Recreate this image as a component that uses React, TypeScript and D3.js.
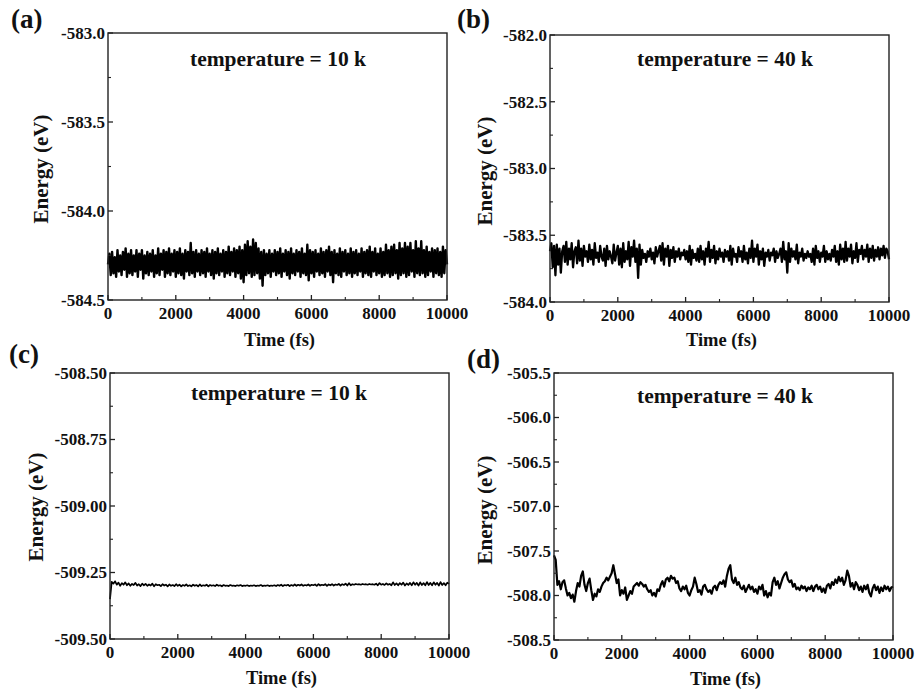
import React from "react";
import * as d3 from "d3";

// sampling step (fs) of each trace
const stepA = 40;
const stepB = 40;
const stepC = 50;
const stepD = 50;

// (a) 10 K, energy in eV
const energyA = [
  -584.30,-584.24,-584.36,-584.23,-584.35,-584.26,-584.37,-584.22,-584.34,-584.25,
  -584.36,-584.23,-584.33,-584.21,-584.37,-584.24,-584.35,-584.22,-584.36,-584.25,
  -584.34,-584.22,-584.37,-584.24,-584.33,-584.22,-584.38,-584.25,-584.35,-584.23,
  -584.36,-584.24,-584.34,-584.22,-584.37,-584.25,-584.35,-584.21,-584.36,-584.24,
  -584.33,-584.22,-584.37,-584.23,-584.35,-584.21,-584.36,-584.24,-584.34,-584.22,
  -584.37,-584.23,-584.35,-584.21,-584.36,-584.24,-584.38,-584.22,-584.34,-584.23,
  -584.36,-584.18,-584.35,-584.23,-584.37,-584.22,-584.34,-584.24,-584.36,-584.22,
  -584.35,-584.23,-584.37,-584.21,-584.34,-584.24,-584.36,-584.22,-584.38,-584.23,
  -584.35,-584.21,-584.36,-584.24,-584.34,-584.22,-584.37,-584.23,-584.35,-584.20,
  -584.36,-584.23,-584.34,-584.21,-584.37,-584.22,-584.35,-584.20,-584.38,-584.22,
  -584.40,-584.19,-584.36,-584.17,-584.35,-584.20,-584.37,-584.16,-584.36,-584.18,
  -584.35,-584.21,-584.38,-584.23,-584.42,-584.22,-584.36,-584.24,-584.35,-584.22,
  -584.37,-584.24,-584.34,-584.22,-584.36,-584.23,-584.35,-584.21,-584.37,-584.24,
  -584.34,-584.22,-584.36,-584.23,-584.38,-584.21,-584.35,-584.24,-584.36,-584.22,
  -584.34,-584.23,-584.37,-584.21,-584.35,-584.24,-584.36,-584.19,-584.39,-584.22,
  -584.35,-584.23,-584.37,-584.22,-584.34,-584.24,-584.36,-584.21,-584.35,-584.23,
  -584.37,-584.22,-584.34,-584.20,-584.36,-584.23,-584.40,-584.22,-584.35,-584.24,
  -584.36,-584.21,-584.37,-584.23,-584.34,-584.22,-584.36,-584.24,-584.35,-584.21,
  -584.37,-584.23,-584.35,-584.22,-584.36,-584.24,-584.34,-584.21,-584.37,-584.23,
  -584.35,-584.22,-584.36,-584.20,-584.37,-584.23,-584.34,-584.21,-584.36,-584.24,
  -584.35,-584.21,-584.37,-584.23,-584.36,-584.19,-584.35,-584.22,-584.37,-584.20,
  -584.36,-584.19,-584.35,-584.22,-584.38,-584.18,-584.36,-584.21,-584.35,-584.18,
  -584.37,-584.20,-584.36,-584.18,-584.34,-584.22,-584.37,-584.17,-584.35,-584.21,
  -584.36,-584.17,-584.35,-584.22,-584.37,-584.20,-584.36,-584.23,-584.34,-584.21,
  -584.37,-584.22,-584.35,-584.21,-584.36,-584.23,-584.37,-584.20,-584.35,-584.22,
  -584.30,
];

// (b) 40 K
const energyB = [
  -583.62,-583.56,-583.74,-583.58,-583.80,-583.57,-583.72,-583.60,-583.78,-583.62,
  -583.58,-583.70,-583.55,-583.72,-583.60,-583.68,-583.56,-583.74,-583.62,-583.59,
  -583.71,-583.54,-583.69,-583.60,-583.73,-583.58,-583.66,-583.62,-583.70,-583.57,
  -583.68,-583.61,-583.72,-583.56,-583.67,-583.63,-583.70,-583.58,-583.66,-583.69,
  -583.60,-583.73,-583.58,-583.68,-583.62,-583.66,-583.71,-583.57,-583.69,-583.63,
  -583.58,-583.72,-583.60,-583.74,-583.56,-583.70,-583.62,-583.68,-583.55,-583.73,
  -583.59,-583.66,-583.54,-583.70,-583.60,-583.82,-583.57,-583.72,-583.61,-583.67,
  -583.64,-583.70,-583.62,-583.66,-583.60,-583.68,-583.63,-583.71,-583.59,-583.66,
  -583.62,-583.58,-583.69,-583.56,-583.72,-583.60,-583.66,-583.58,-583.73,-583.61,
  -583.67,-583.59,-583.70,-583.62,-583.66,-583.60,-583.68,-583.63,-583.65,-583.61,
  -583.68,-583.62,-583.70,-583.58,-583.72,-583.61,-583.67,-583.64,-583.69,-583.60,
  -583.70,-583.58,-583.68,-583.62,-583.72,-583.60,-583.66,-583.55,-583.70,-583.61,
  -583.67,-583.58,-583.71,-583.62,-583.68,-583.60,-583.66,-583.63,-583.70,-583.61,
  -583.66,-583.62,-583.69,-583.58,-583.72,-583.60,-583.66,-583.64,-583.70,-583.59,
  -583.66,-583.62,-583.70,-583.58,-583.68,-583.63,-583.71,-583.60,-583.67,-583.54,
  -583.70,-583.60,-583.66,-583.57,-583.72,-583.62,-583.68,-583.60,-583.73,-583.63,
  -583.66,-583.61,-583.69,-583.63,-583.65,-583.60,-583.70,-583.62,-583.67,-583.64,
  -583.60,-583.70,-583.55,-583.68,-583.62,-583.78,-583.56,-583.70,-583.60,-583.66,
  -583.62,-583.68,-583.57,-583.71,-583.63,-583.66,-583.60,-583.69,-583.64,-583.67,
  -583.62,-583.66,-583.64,-583.70,-583.60,-583.72,-583.58,-583.67,-583.62,-583.70,
  -583.63,-583.66,-583.58,-583.70,-583.62,-583.68,-583.64,-583.69,-583.61,-583.66,
  -583.58,-583.70,-583.62,-583.72,-583.57,-583.68,-583.60,-583.70,-583.55,-583.69,
  -583.60,-583.66,-583.57,-583.71,-583.62,-583.67,-583.56,-583.70,-583.61,-583.64,
  -583.58,-583.68,-583.61,-583.66,-583.57,-583.70,-583.60,-583.67,-583.58,-583.69,
  -583.61,-583.66,-583.59,-583.68,-583.60,-583.65,-583.58,-583.67,-583.60,-583.62,
  -583.68,
];

// (c) 10 K
const energyC = [
  -509.350,-509.285,-509.292,-509.283,-509.296,-509.288,-509.300,-509.290,-509.296,-509.287,
  -509.298,-509.291,-509.300,-509.293,-509.297,-509.289,-509.299,-509.294,-509.301,-509.292,
  -509.298,-509.293,-509.300,-509.295,-509.299,-509.292,-509.302,-509.294,-509.298,-509.296,
  -509.301,-509.294,-509.299,-509.296,-509.302,-509.295,-509.300,-509.297,-509.301,-509.294,
  -509.300,-509.296,-509.302,-509.297,-509.300,-509.295,-509.301,-509.298,-509.302,-509.296,
  -509.300,-509.297,-509.302,-509.295,-509.301,-509.298,-509.300,-509.296,-509.302,-509.297,
  -509.300,-509.298,-509.301,-509.296,-509.300,-509.298,-509.302,-509.297,-509.300,-509.299,
  -509.301,-509.297,-509.300,-509.299,-509.301,-509.298,-509.300,-509.297,-509.301,-509.299,
  -509.300,-509.298,-509.301,-509.299,-509.300,-509.298,-509.301,-509.299,-509.300,-509.297,
  -509.301,-509.299,-509.300,-509.298,-509.301,-509.299,-509.300,-509.298,-509.301,-509.297,
  -509.300,-509.296,-509.301,-509.297,-509.299,-509.296,-509.301,-509.297,-509.300,-509.295,
  -509.300,-509.296,-509.299,-509.295,-509.300,-509.297,-509.299,-509.295,-509.300,-509.296,
  -509.298,-509.295,-509.300,-509.294,-509.299,-509.296,-509.298,-509.294,-509.300,-509.295,
  -509.298,-509.294,-509.299,-509.295,-509.297,-509.293,-509.299,-509.294,-509.297,-509.292,
  -509.299,-509.290,-509.298,-509.294,-509.296,-509.293,-509.295,-509.294,-509.296,-509.293,
  -509.295,-509.294,-509.296,-509.293,-509.295,-509.294,-509.296,-509.292,-509.298,-509.290,
  -509.296,-509.293,-509.297,-509.291,-509.296,-509.293,-509.298,-509.287,-509.297,-509.291,
  -509.298,-509.290,-509.296,-509.288,-509.299,-509.291,-509.297,-509.289,-509.298,-509.287,
  -509.296,-509.289,-509.299,-509.287,-509.297,-509.290,-509.298,-509.286,-509.297,-509.289,
  -509.298,-509.287,-509.296,-509.289,-509.299,-509.286,-509.297,-509.290,-509.298,-509.288,
  -509.293,
];

// (d) 40 K
const energyD = [
  -507.55,-507.60,-507.88,-507.84,-507.93,-507.85,-507.83,-507.92,-508.00,-507.97,
  -508.03,-507.99,-508.07,-507.95,-507.86,-507.90,-507.78,-507.73,-507.88,-507.95,
  -507.86,-507.81,-507.94,-508.05,-507.98,-508.01,-507.93,-507.96,-507.90,-507.86,
  -507.84,-507.80,-507.83,-507.79,-507.75,-507.66,-507.76,-507.86,-507.82,-508.00,
  -507.94,-507.98,-507.91,-508.05,-508.00,-507.95,-507.98,-507.90,-507.88,-507.86,
  -507.89,-507.85,-507.87,-507.90,-507.88,-507.93,-507.96,-507.94,-508.00,-507.97,
  -508.01,-507.93,-507.95,-507.88,-507.84,-507.90,-507.82,-507.80,-507.84,-507.78,
  -507.81,-507.80,-507.86,-507.84,-507.92,-507.95,-507.90,-507.93,-507.89,-507.97,
  -508.00,-507.94,-507.90,-507.80,-507.87,-507.96,-507.94,-507.99,-507.90,-507.88,
  -507.93,-507.96,-507.94,-507.98,-507.91,-507.89,-507.94,-507.88,-507.85,-507.87,
  -507.83,-507.90,-507.78,-507.70,-507.66,-507.82,-507.86,-507.80,-507.88,-507.85,
  -507.91,-507.93,-507.89,-507.96,-507.92,-507.88,-507.93,-507.90,-507.96,-507.93,
  -507.98,-507.90,-507.93,-507.88,-508.00,-507.95,-508.02,-507.97,-508.00,-507.85,
  -507.80,-507.88,-507.84,-507.92,-507.86,-507.80,-507.76,-507.74,-507.82,-507.85,
  -507.83,-507.90,-507.87,-507.93,-507.91,-507.94,-507.89,-507.92,-507.90,-507.95,
  -507.91,-507.93,-507.89,-507.95,-507.90,-507.88,-507.93,-507.90,-507.96,-507.92,
  -507.97,-507.89,-507.87,-507.92,-507.85,-507.88,-507.82,-507.86,-507.79,-507.84,
  -507.80,-507.88,-507.83,-507.72,-507.78,-507.90,-507.86,-507.93,-507.85,-507.88,
  -507.94,-507.90,-507.96,-507.89,-507.93,-507.88,-507.97,-508.01,-507.92,-507.88,
  -507.94,-507.90,-507.97,-507.91,-507.95,-507.89,-507.93,-507.90,-507.95,-507.91,
  -507.90,
];

const timeTicks = [0, 2000, 4000, 6000, 8000, 10000];
const timeMinor = [1000, 3000, 5000, 7000, 9000];
const yTicksA = [-584.5, -584.0, -583.5, -583.0];
const yTicksB = [-584.0, -583.5, -583.0, -582.5, -582.0];
const yTicksC = [-509.5, -509.25, -509.0, -508.75, -508.5];
const yTicksD = [-508.5, -508.0, -507.5, -507.0, -506.5, -506.0, -505.5];
const panelLabels = ["(a)", "(b)", "(c)", "(d)"];
const notes = ["temperature = 10 k", "temperature = 40 k", "temperature = 10 k", "temperature = 40 k"];

const FONT = "'Liberation Serif', 'Times New Roman', serif";

const panels = [
  { data: energyA, step: stepA, ticks: yTicksA, fmt: ".1f", left: 108, top: 33, w: 339, h: 267,
    label: [11, 28], noteX: 278, noteY: 66, yTitle: [48, 169], xTitleY: 346, sw: 2.4 },
  { data: energyB, step: stepB, ticks: yTicksB, fmt: ".1f", left: 550, top: 35, w: 339, h: 267,
    label: [457, 28], noteX: 725, noteY: 66, yTitle: [492, 171], xTitleY: 346, sw: 2.3 },
  { data: energyC, step: stepC, ticks: yTicksC, fmt: ".2f", left: 110, top: 373, w: 339, h: 266,
    label: [9, 363], noteX: 279, noteY: 400, yTitle: [43, 507], xTitleY: 684, sw: 1.7 },
  { data: energyD, step: stepD, ticks: yTicksD, fmt: ".1f", left: 554, top: 373, w: 339, h: 267,
    label: [467, 368], noteX: 725, noteY: 403, yTitle: [492, 510], xTitleY: 685, sw: 2.2 },
];

function Panel({ p, idx }: { p: any; idx: number }) {
  const { left, top, w, h } = p;
  const x = d3.scaleLinear().domain([0, 10000]).range([left, left + w]);
  const y = d3
    .scaleLinear()
    .domain([p.ticks[0], p.ticks[p.ticks.length - 1]])
    .range([top + h, top]);
  const line = d3
    .line<number>()
    .x((_, i) => x(i * p.step))
    .y((d) => y(d));
  // plain hyphen for the minus sign, as in the original figure
  const fmt = (v: number) => d3.format(p.fmt)(v).replace("\u2212", "-");
  // minor ticks halfway between the major ones
  const yMinor = p.ticks.slice(1).map((t: number, i: number) => (t + p.ticks[i]) / 2);
  const bottom = top + h;

  return (
    <g>
      <path d={line(p.data) || ""} fill="none" stroke="#000" strokeWidth={p.sw} strokeLinejoin="round" />
      <rect x={left} y={top} width={w} height={h} fill="none" stroke="#222" strokeWidth={1.4} />
      {timeTicks.map((t) => (
        <g key={"xt" + t}>
          <line x1={x(t)} x2={x(t)} y1={bottom} y2={bottom - 5} stroke="#222" strokeWidth={1.3} />
          <text x={x(t)} y={bottom + 19} textAnchor="middle" fontSize={17}>
            {t}
          </text>
        </g>
      ))}
      {timeMinor.map((t) => (
        <line key={"xm" + t} x1={x(t)} x2={x(t)} y1={bottom} y2={bottom - 3} stroke="#222" strokeWidth={1.1} />
      ))}
      {p.ticks.map((t: number) => (
        <g key={"yt" + t}>
          <line x1={left} x2={left + 5} y1={y(t)} y2={y(t)} stroke="#222" strokeWidth={1.3} />
          <text x={left - 3} y={y(t)} dy="0.35em" textAnchor="end" fontSize={17}>
            {fmt(t)}
          </text>
        </g>
      ))}
      {yMinor.map((t: number) => (
        <line key={"ym" + t} x1={left} x2={left + 3} y1={y(t)} y2={y(t)} stroke="#222" strokeWidth={1.1} />
      ))}
      <text x={p.noteX} y={p.noteY} textAnchor="middle" fontSize={21.5}>
        {notes[idx]}
      </text>
      <text
        transform={`translate(${p.yTitle[0]},${p.yTitle[1]}) rotate(-90)`}
        textAnchor="middle"
        fontSize={21}
      >
        Energy (eV)
      </text>
      <text x={left + w / 2 + 2} y={p.xTitleY} textAnchor="middle" fontSize={18.5}>
        Time (fs)
      </text>
      <text x={p.label[0]} y={p.label[1]} fontSize={27}>
        {panelLabels[idx]}
      </text>
    </g>
  );
}

export default function App() {
  return (
    <svg
      width={919}
      height={691}
      style={{ position: "absolute", left: 0, top: 0, background: "#fff" }}
      fontFamily={FONT}
      fontWeight="bold"
      fill="#111"
    >
      {panels.map((p, i) => (
        <Panel key={i} p={p} idx={i} />
      ))}
    </svg>
  );
}
